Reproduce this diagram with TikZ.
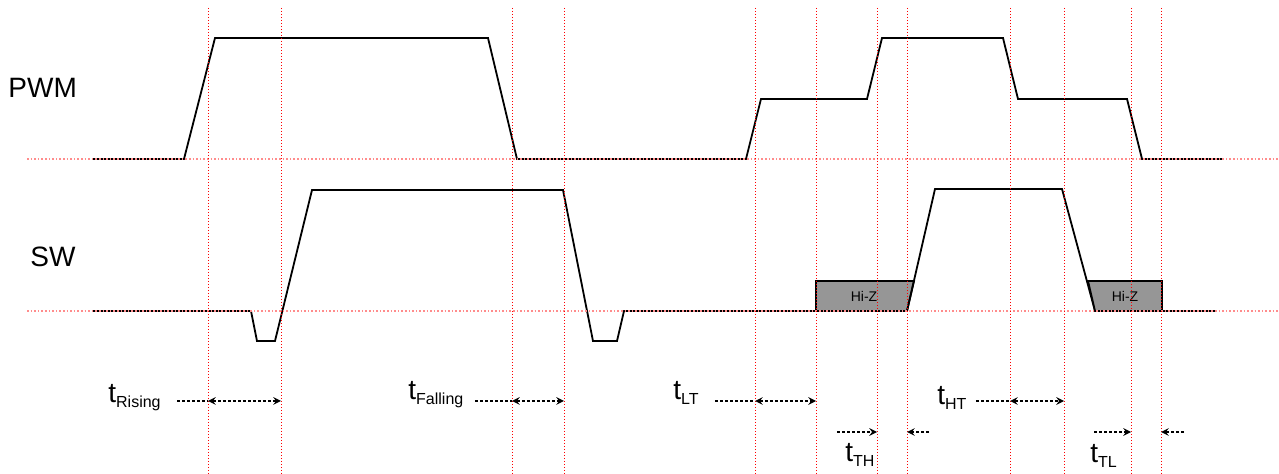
\documentclass[tikz,border=0pt]{standalone}
\usepackage{fontspec}
\setmainfont{Liberation Sans}
\definecolor{hizgray}{RGB}{150,150,150}
\newcommand{\tlab}[1]{t\raisebox{-0.17em}{\fontsize{8}{9}\selectfont #1}}
\tikzset{
  sig/.style={line width=0.9pt,line join=miter},
  vgrid/.style={red,line width=0.5pt,densely dotted},
  hgrid/.style={red!45,line width=0.8pt,densely dotted},
  tarrow/.style={line width=0.7pt,dash pattern=on 1.5pt off 1pt},
  siglabel/.style={font=\fontsize{14}{16}\selectfont,anchor=base west,inner sep=0pt},
  hizbox/.style={draw,fill=hizgray,line width=0.9pt},
}
\begin{document}
\begin{tikzpicture}[line cap=butt,>=stealth,x=0.5pt,y=-0.5pt]
\useasboundingbox (0,0) rectangle (1279,474);
% PWM
\draw[sig] (93,159)--(184,159)--(215,38)--(488,38)--(517,159)--(746,159)--(761,99)
  --(867,99)--(882,38)--(1003,38)--(1018,99)--(1127,99)--(1142,159)--(1222,159);
% SW
\draw[sig] (93,311)--(251,311)--(257,341)--(275,341)--(312,190)--(563,190)
  --(593,341)--(617,341)--(624,311)--(816,311);
\draw[hizbox] (816,281)--(914,281)--(907,311)--(816,311)--cycle;
\draw[sig] (907,311)--(935,189)--(1062,189)--(1095,311);
\draw[hizbox] (1088,281)--(1162,281)--(1162,311)--(1095,311)--cycle;
\draw[sig] (1162,311)--(1217,311);
\node[font=\fontsize{7}{8}\selectfont] (hiz1) at (864,296) {Hi-Z};
\node[font=\fontsize{7}{8}\selectfont] (hiz2) at (1125,296) {Hi-Z};
% grid
\draw[hgrid] (27,159)--(1279,159);
\draw[hgrid] (27,311)--(1279,311);
\foreach \x [count=\i] in {208,281,512,564,755,816,877,907,1010,1064,1131,1161}
{
\draw[vgrid] (\x,8)--(\x,474);
\coordinate (r\i) at (\x,401);
\coordinate (s\i) at (\x,432);
}
\node[siglabel] (pwm) at (8,98) {PWM};
\node[siglabel] (sw) at (30,267) {SW};
% timings
\node[siglabel] (trise) at (108,403) {\tlab{Rising}};
\node[siglabel] (tfall) at (408,400) {\tlab{Falling}};
\node[siglabel] (tlt) at (673,400) {\tlab{LT}};
\node[siglabel] (tth) at (845,462) {\tlab{TH}};
\node[siglabel] (tht) at (937,405) {\tlab{HT}};
\node[siglabel] (ttl) at (1090,463) {\tlab{TL}};
\coordinate (ra) at (177,401);
\coordinate (rb) at (475,401);
\coordinate (rc) at (715,401);
\coordinate (rd) at (976,401);
\coordinate (sa) at (837,432);
\coordinate (sb) at (929,432);
\coordinate (sc) at (1094,432);
\coordinate (sd) at (1184,432);
\draw[tarrow] (ra)--(r1);
\draw[tarrow,<->] (r1)--(r2);
\draw[tarrow] (rb)--(r3);
\draw[tarrow,<->] (r3)--(r4);
\draw[tarrow] (rc)--(r5);
\draw[tarrow,<->] (r5)--(r6);
\draw[tarrow] (rd)--(r9);
\draw[tarrow,<->] (r9)--(r10);
\draw[tarrow,->] (sa)--(s7);
\draw[tarrow,->] (sb)--(s8);
\draw[tarrow,->] (sc)--(s11);
\draw[tarrow,->] (sd)--(s12);
\end{tikzpicture}
\end{document}
